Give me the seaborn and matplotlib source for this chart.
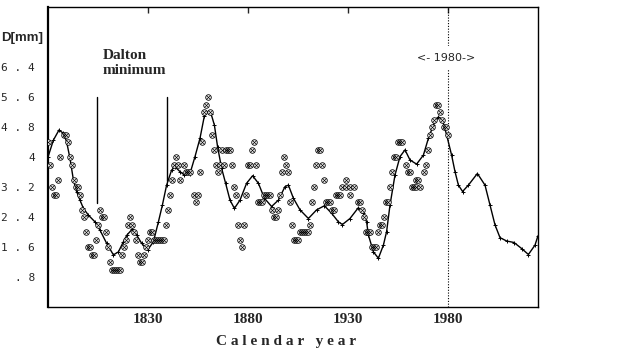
import numpy as np
import pandas as pd
import matplotlib
matplotlib.use("Agg")
import matplotlib.pyplot as plt
import seaborn as sns

# observed yearly values (circles)
obs_year = [1780, 1781, 1782, 1783, 1784, 1785, 1786, 1788, 1789, 1790,
            1791, 1792, 1793, 1794, 1795, 1796, 1797, 1798, 1799, 1800,
            1801, 1802, 1803, 1804, 1805, 1806, 1807, 1808, 1809, 1810,
            1811, 1812, 1813, 1814, 1815, 1816, 1817, 1818, 1819, 1820,
            1821, 1822, 1823, 1824, 1825, 1826, 1827, 1828, 1829, 1830,
            1831, 1832, 1833, 1834, 1835, 1836, 1837, 1838, 1839, 1840,
            1841, 1842, 1843, 1844, 1845, 1846, 1848, 1849, 1850, 1851,
            1853, 1854, 1855, 1856, 1857, 1858, 1859, 1860, 1861, 1862,
            1863, 1864, 1865, 1866, 1867, 1868, 1869, 1870, 1871, 1872,
            1873, 1874, 1875, 1876, 1877, 1878, 1879, 1880, 1881, 1882,
            1883, 1884, 1885, 1886, 1887, 1888, 1889, 1890, 1891, 1892,
            1893, 1894, 1895, 1896, 1897, 1898, 1899, 1900, 1901, 1902,
            1903, 1904, 1905, 1906, 1907, 1908, 1909, 1910, 1911, 1912,
            1913, 1914, 1915, 1916, 1917, 1918, 1919, 1920, 1921, 1922,
            1923, 1924, 1925, 1926, 1927, 1929, 1929, 1931, 1931, 1933,
            1935, 1936, 1937, 1938, 1939, 1940, 1941, 1942, 1943, 1944,
            1945, 1946, 1947, 1948, 1949, 1950, 1951, 1952, 1953, 1954,
            1955, 1956, 1957, 1959, 1960, 1961, 1962, 1963, 1964, 1964,
            1965, 1966, 1968, 1969, 1970, 1971, 1972, 1973, 1974, 1975,
            1976, 1977, 1978, 1979, 1980]
obs_val = [4.4, 3.8, 3.2, 3.0, 3.0, 3.4, 4.0, 4.6, 4.6, 4.4,
           4.0, 3.8, 3.4, 3.2, 3.2, 3.0, 2.6, 2.4, 2.0, 1.6,
           1.6, 1.4, 1.4, 1.8, 2.2, 2.6, 2.4, 2.4, 2.0, 1.6,
           1.2, 1.0, 1.0, 1.0, 1.0, 1.0, 1.4, 1.6, 1.8, 2.2,
           2.4, 2.2, 2.0, 1.8, 1.4, 1.2, 1.2, 1.4, 1.6, 1.8,
           2.0, 2.0, 1.8, 1.8, 1.8, 1.8, 1.8, 1.8, 2.2, 2.6,
           3.0, 3.4, 3.8, 4.0, 3.8, 3.4, 3.8, 3.6, 3.6, 3.6,
           3.0, 2.8, 3.0, 3.6, 4.4, 5.2, 5.4, 5.6, 5.2, 4.6,
           4.2, 3.8, 3.6, 3.8, 4.2, 3.8, 4.2, 4.2, 4.2, 3.8,
           3.2, 3.0, 2.2, 1.8, 1.6, 2.2, 3.0, 3.8, 3.8, 4.2,
           4.4, 3.8, 2.8, 2.8, 2.8, 3.0, 3.0, 3.0, 3.0, 2.6,
           2.4, 2.4, 2.6, 3.0, 3.6, 4.0, 3.8, 3.6, 2.8, 2.2,
           1.8, 1.8, 1.8, 2.0, 2.0, 2.0, 2.0, 2.0, 2.2, 2.8,
           3.2, 3.8, 4.2, 4.2, 3.8, 3.4, 2.8, 2.8, 2.8, 2.6,
           2.6, 3.0, 3.0, 3.0, 3.2, 3.4, 3.2, 3.0, 3.2, 3.2,
           2.8, 2.8, 2.6, 2.4, 2.0, 2.0, 2.0, 1.6, 1.6, 1.6,
           2.0, 2.2, 2.2, 2.4, 2.8, 2.8, 3.2, 3.6, 4.0, 4.0,
           4.4, 4.4, 4.4, 3.8, 3.6, 3.6, 3.2, 3.2, 3.4, 3.2,
           3.4, 3.2, 3.6, 3.8, 4.2, 4.6, 4.8, 5.0, 5.4, 5.4,
           5.2, 5.0, 4.8, 4.8, 4.6]

# smoothed / projected curve
fit_year = [1780, 1782.7, 1785.5, 1787.7, 1789.3, 1791, 1792.7, 1794.3, 1796, 1797.7,
            1800.2, 1803.5, 1806, 1809.3, 1812.7, 1815.2, 1817.7, 1819.5, 1822.2, 1824.3,
            1826.8, 1829.8, 1832.7, 1835.2, 1837.2, 1839.3, 1841.8, 1843.5, 1846, 1848.2,
            1851, 1853.5, 1856, 1858.2, 1859.8, 1861.5, 1863.2, 1864.8, 1866.8, 1868.8,
            1871, 1873.2, 1876, 1879.3, 1882.3, 1885.2, 1888.2, 1891.8, 1895.2, 1898.5,
            1900.2, 1902.7, 1906, 1910.2, 1914.3, 1918.2, 1921.8, 1925.2, 1927.2, 1931,
            1935.2, 1937.7, 1939.3, 1940.2, 1942.7, 1945.2, 1947.7, 1949.3, 1951, 1953.5,
            1956, 1958.5, 1961, 1964.3, 1967.7, 1970.2, 1972.7, 1975.2, 1977.2, 1979.3,
            1981.8, 1983.5, 1985.2, 1987.3, 1990.2, 1994.7, 1998.5, 2001, 2003.5, 2006,
            2009.3, 2013, 2016.8, 2020.2, 2023.5, 2025]
fit_val = [4.0, 4.45, 4.72, 4.63, 4.41, 3.96, 3.39, 3.08, 2.85, 2.63,
           2.45, 2.27, 2.05, 1.70, 1.39, 1.47, 1.74, 1.92, 2.08, 1.92,
           1.70, 1.52, 1.74, 2.27, 2.72, 3.25, 3.65, 3.74, 3.61, 3.52,
           3.56, 4.01, 4.50, 5.10, 5.21, 5.16, 4.85, 4.27, 3.70, 3.30,
           2.85, 2.63, 2.85, 3.30, 3.50, 3.30, 2.90, 2.68, 2.85, 3.21,
           3.25, 2.90, 2.59, 2.36, 2.59, 2.70, 2.50, 2.27, 2.20, 2.36,
           2.65, 2.50, 2.27, 1.92, 1.47, 1.30, 1.65, 2.01, 2.72, 3.52,
           4.01, 4.19, 3.92, 3.81, 4.05, 4.50, 4.85, 5.07, 4.99, 4.59,
           4.05, 3.61, 3.25, 3.08, 3.25, 3.56, 3.25, 2.72, 2.19, 1.85,
           1.76, 1.72, 1.56, 1.40, 1.65, 1.90]

y_ticks = [0.8, 1.6, 2.4, 3.2, 4.0, 4.8, 5.6, 6.4, 7.2]
y_labels = [". 8", "1 . 6", "2 . 4", "3 . 2", "4", "4 . 8", "5 . 6", "6 . 4", ""]
x_ticks = [1830, 1880, 1930, 1980]
dalton_years = [1804.6, 1839.6]
dalton_tops = [5.6, 5.6]
dalton_bottoms = [2.78, 3.35]

obs = pd.DataFrame({"year": obs_year, "D": obs_val})
fit = pd.DataFrame({"year": fit_year, "D": fit_val})

sns.set_style("white")
fig = plt.figure(figsize=(6.2, 3.6), dpi=100)
ax = fig.add_axes([48 / 620, 53 / 360, 490 / 620, 300 / 360])

sns.lineplot(data=fit, x="year", y="D", ax=ax, color="black", linewidth=1.0,
             marker="+", markersize=3.5, markeredgewidth=0.7, markeredgecolor="black")
sns.scatterplot(data=obs, x="year", y="D", ax=ax, marker="o", s=16,
                facecolor="white", edgecolor="black", linewidth=0.6, zorder=3)
sns.scatterplot(data=obs, x="year", y="D", ax=ax, marker="x", s=6,
                color="black", linewidth=0.5, zorder=4)

for yr, top, bot in zip(dalton_years, dalton_tops, dalton_bottoms):
    ax.plot([yr, yr], [bot, top], color="black", linewidth=1.0)
ax.axvline(1980, color="black", linestyle=(0, (1, 1.5)), linewidth=0.8)

ax.text(1807.5, 6.88, "Dalton\nminimum", ha="left", va="top", fontsize=11,
        fontweight="bold", family="Liberation Serif", linespacing=1.2)
ax.text(1979, 6.65, "<- 1980->", ha="center", va="center", fontsize=8,
        family="DejaVu Sans",
        bbox=dict(facecolor="white", edgecolor="none", pad=5))

ax.set_xlim(1780, 2025)
ax.set_ylim(0, 8)
ax.set_xticks(x_ticks)
ax.set_xticklabels([str(t) for t in x_ticks], fontsize=11, fontweight="bold",
                   family="Liberation Serif")
ax.set_yticks(y_ticks)
ax.set_yticklabels(y_labels, fontsize=8, family="DejaVu Sans Mono")
ax.tick_params(axis="x", direction="in", length=4, width=1, top=True, pad=4)
ax.tick_params(axis="y", direction="in", length=4, width=1, pad=9.5)
ax.set_xlabel("")
ax.set_ylabel("")
for name, sp in ax.spines.items():
    sp.set_color("black")
    sp.set_linewidth(1.6 if name == "left" else 1.0)

fig.text(43 / 620, 1 - 38 / 360, "D[mm]", ha="right", va="center", fontsize=9.5,
         fontweight="bold", family="Liberation Sans")
fig.text(286 / 620, 1 - 341 / 360, "C a l e n d a r   y e a r", ha="center",
         va="center", fontsize=11, fontweight="bold", family="Liberation Serif")

fig.savefig("out.png", dpi=100)
